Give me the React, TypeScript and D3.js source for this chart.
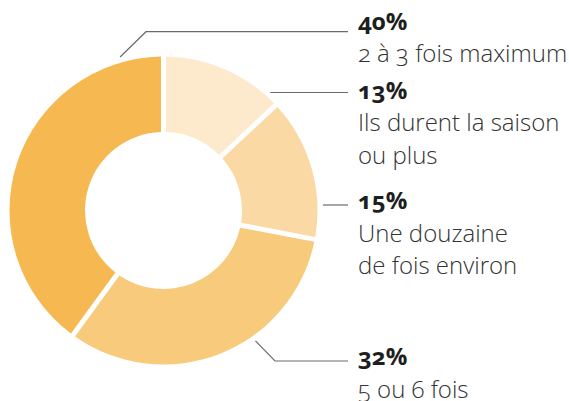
import React from "react";
import * as d3 from "d3";

// ---- data ----
const categories = [
  "Ils durent la saison ou plus",
  "Une douzaine de fois environ",
  "5 ou 6 fois",
  "2 à 3 fois maximum",
];
const values = [13, 15, 32, 40];
const pctLabels = ["13%", "15%", "32%", "40%"];
const descLines = [
  ["Ils durent la saison", "ou plus"],
  ["Une douzaine", "de fois environ"],
  ["5 ou 6 fois"],
  ["2 à 3 fois maximum"],
];
const colors = ["#fde9cb", "#fad9a4", "#f8ca7c", "#f6b951"];

// ---- layout ----
const W = 569;
const H = 401;
const cx = 163.5;
const cy = 210.5;
const outerR = 154;
const innerR = 78.5;
const textX = 358;
const lineEndX = 348;
const leaderAngle = [42, 88, 144.8, 344.2];
const leaderR = 159.5;
const leaderY = [92.5, 205, 361, 31.7];
const leaderElbowX = [null, null, 275, 146];
const pctBaseline = [98.5, 209, 365, 29.5];
const lineGap = 32.5;

export default function App() {
  const pie = d3
    .pie<number>()
    .sort(null)
    .value((d) => d);
  const arcs = pie(values);
  const arc = d3
    .arc<d3.PieArcDatum<number>>()
    .innerRadius(innerR)
    .outerRadius(outerR)
    .padAngle(0.05)
    .padRadius(100);

  const font = "'Open Sans', 'Noto Sans', sans-serif";

  return (
    <svg width={W} height={H} style={{ display: "block", position: "absolute", left: 0, top: 0 }}>
      <rect width={W} height={H} fill="#fff" />
      <g transform={`translate(${cx},${cy})`}>
        {arcs.map((a, i) => (
          <path key={categories[i]} d={arc(a) || ""} fill={colors[i]} />
        ))}
      </g>
      {arcs.map((a, i) => {
        const ang = (leaderAngle[i] * Math.PI) / 180;
        const sx = cx + leaderR * Math.sin(ang);
        const sy = cy - leaderR * Math.cos(ang);
        const pts: [number, number][] = [[sx, sy]];
        const ex = leaderElbowX[i];
        if (ex != null) pts.push([ex, leaderY[i]]);
        else pts[0] = [sx, leaderY[i]];
        pts.push([lineEndX, leaderY[i]]);
        const line = d3.line();
        return (
          <path
            key={"l" + i}
            d={line(pts) || ""}
            fill="none"
            stroke="#6b6b6b"
            strokeWidth={1.2}
          />
        );
      })}
      {arcs.map((a, i) => (
        <g key={"t" + i} fontFamily={font} style={{ fontFeatureSettings: "'onum'" }}>
          <text x={textX} y={pctBaseline[i]} fontSize={24} fontWeight={700} fill="#1e1e1e">
            {pctLabels[i]}
          </text>
          {descLines[i].map((ln, j) => (
            <text
              key={j}
              x={textX}
              y={pctBaseline[i] + lineGap * (j + 1)}
              fontSize={24}
              fontWeight={300}
              fill="#333"
            >
              {ln}
            </text>
          ))}
        </g>
      ))}
    </svg>
  );
}
